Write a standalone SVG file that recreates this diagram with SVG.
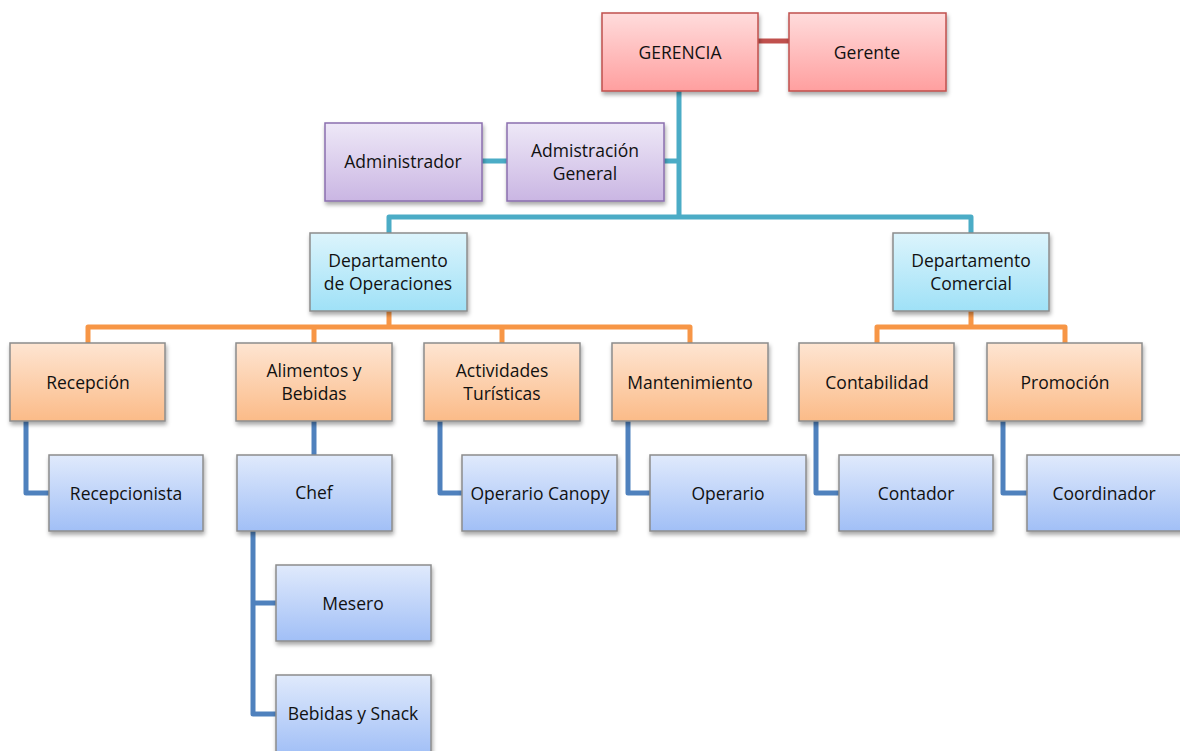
<svg xmlns="http://www.w3.org/2000/svg" width="1180" height="751" viewBox="0 0 1180 751">
<defs>
<linearGradient id="gRed" x1="0" y1="0" x2="0" y2="1"><stop offset="0" stop-color="#ffdcdc"/><stop offset="1" stop-color="#ff9f9f"/></linearGradient>
<linearGradient id="gPur" x1="0" y1="0" x2="0" y2="1"><stop offset="0" stop-color="#eee8f7"/><stop offset="1" stop-color="#cab6e3"/></linearGradient>
<linearGradient id="gCyan" x1="0" y1="0" x2="0" y2="1"><stop offset="0" stop-color="#dcf4fc"/><stop offset="1" stop-color="#9fe1f7"/></linearGradient>
<linearGradient id="gOra" x1="0" y1="0" x2="0" y2="1"><stop offset="0" stop-color="#fee5d2"/><stop offset="1" stop-color="#fbbb88"/></linearGradient>
<linearGradient id="gBlue" x1="0" y1="0" x2="0" y2="1"><stop offset="0" stop-color="#e0eafc"/><stop offset="1" stop-color="#a1bff6"/></linearGradient>
<filter id="sh" x="-10%" y="-10%" width="125%" height="135%"><feDropShadow dx="1" dy="3" stdDeviation="2" flood-color="#000" flood-opacity="0.35"/></filter>
</defs>
<style>
.red{fill:url(#gRed);stroke:#c0504d;stroke-width:1.5}
.pur{fill:url(#gPur);stroke:#8a6fae;stroke-width:1.5}
.cyan{fill:url(#gCyan);stroke:#8c8c8c;stroke-width:1.5}
.ora{fill:url(#gOra);stroke:#8c8c8c;stroke-width:1.5}
.blue{fill:url(#gBlue);stroke:#8c8c8c;stroke-width:1.5}
rect{filter:url(#sh)}
text{font-family:"Open Sans","Liberation Sans",sans-serif;font-size:17.5px;fill:#111;text-anchor:middle;dominant-baseline:central}
.c{fill:none;stroke-width:5;stroke-linejoin:round}
.ct{stroke:#4bacc6}.co{stroke:#f79646}.cb{stroke:#4f81bd}.cr{stroke:#c0504d}
</style>
<g id="connectors">
<path class="c cr" d="M758 41H789"/>
<path class="c ct" d="M679 91V217M482 161H507M664 161H679M389 233V217H971V233"/>
<path class="c co" d="M389 311V327M88 343V327H690V343M314 327V343M502 327V343"/>
<path class="c co" d="M971 311V327M877 343V327H1065V343"/>
<path class="c cb" d="M26 421V493H49"/>
<path class="c cb" d="M314 421V455"/>
<path class="c cb" d="M253 531V714H276M253 603H276"/>
<path class="c cb" d="M440 421V493H462"/>
<path class="c cb" d="M628 421V493H650"/>
<path class="c cb" d="M816 421V493H839"/>
<path class="c cb" d="M1003 421V493H1027"/>
</g>
<g id="gerencia"><rect class="red" x="602" y="13" width="156" height="78"/><text x="680" y="52">GERENCIA</text></g>
<g id="gerente"><rect class="red" x="789" y="13" width="157" height="78"/><text x="867" y="52">Gerente</text></g>
<g id="administrador"><rect class="pur" x="325" y="123" width="157" height="78"/><text x="403" y="161">Administrador</text></g>
<g id="admin-general"><rect class="pur" x="507" y="123" width="157" height="78"/><text x="585" y="150">Admistración</text><text x="585" y="173">General</text></g>
<g id="dep-operaciones"><rect class="cyan" x="310" y="233" width="157" height="78"/><text x="388" y="260">Departamento</text><text x="388" y="283">de Operaciones</text></g>
<g id="dep-comercial"><rect class="cyan" x="893" y="233" width="156" height="78"/><text x="971" y="260">Departamento</text><text x="971" y="283">Comercial</text></g>
<g id="recepcion"><rect class="ora" x="10" y="343" width="155" height="78"/><text x="88" y="382">Recepción</text></g>
<g id="alimentos"><rect class="ora" x="236" y="343" width="156" height="78"/><text x="314" y="370">Alimentos y</text><text x="314" y="393">Bebidas</text></g>
<g id="actividades"><rect class="ora" x="424" y="343" width="156" height="78"/><text x="502" y="370">Actividades</text><text x="502" y="393">Turísticas</text></g>
<g id="mantenimiento"><rect class="ora" x="612" y="343" width="156" height="78"/><text x="690" y="382">Mantenimiento</text></g>
<g id="contabilidad"><rect class="ora" x="799" y="343" width="155" height="78"/><text x="877" y="382">Contabilidad</text></g>
<g id="promocion"><rect class="ora" x="987" y="343" width="155" height="78"/><text x="1065" y="382">Promoción</text></g>
<g id="recepcionista"><rect class="blue" x="49" y="455" width="154" height="76"/><text x="126" y="493">Recepcionista</text></g>
<g id="chef"><rect class="blue" x="237" y="455" width="155" height="76"/><text x="314" y="492">Chef</text></g>
<g id="operario-canopy"><rect class="blue" x="462" y="455" width="155" height="76"/><text x="540" y="493">Operario Canopy</text></g>
<g id="operario"><rect class="blue" x="650" y="455" width="156" height="76"/><text x="728" y="493">Operario</text></g>
<g id="contador"><rect class="blue" x="839" y="455" width="154" height="76"/><text x="916" y="493">Contador</text></g>
<g id="coordinador"><rect class="blue" x="1027" y="455" width="156" height="76"/><text x="1104" y="493">Coordinador</text></g>
<g id="mesero"><rect class="blue" x="276" y="565" width="155" height="76"/><text x="353" y="603">Mesero</text></g>
<g id="bebidas-snack"><rect class="blue" x="276" y="675" width="155" height="80"/><text x="353" y="713">Bebidas y Snack</text></g>
</svg>
